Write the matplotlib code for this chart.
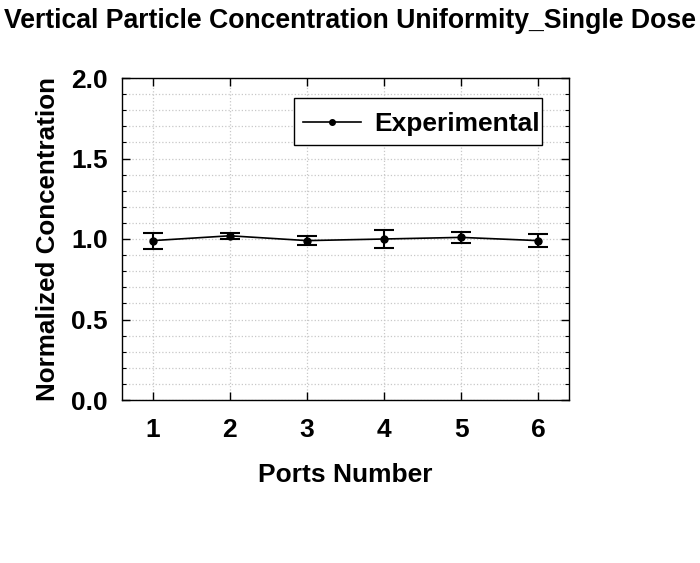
import matplotlib
matplotlib.use("Agg")
import matplotlib.pyplot as plt
from matplotlib import font_manager
from matplotlib.ticker import MultipleLocator
from matplotlib.lines import Line2D
from matplotlib.patches import Rectangle

ports = [1, 2, 3, 4, 5, 6]
concentration = [0.99, 1.02, 0.99, 1.00, 1.01, 0.99]
errors = [0.05, 0.02, 0.03, 0.055, 0.035, 0.04]
xticklabels = ["1", "2", "3", "4", "5", "6"]

names = {f.name for f in font_manager.fontManager.ttflist}
main_font = "Liberation Sans" if "Liberation Sans" in names else "DejaVu Sans"
title_font = "Liberation Sans Narrow" if "Liberation Sans Narrow" in names else main_font
plt.rcParams["font.family"] = [main_font, "DejaVu Sans"]

W, H = 700, 563
fig = plt.figure(figsize=(7, 5.63), dpi=100)
ax = fig.add_axes([122 / W, 1 - 400 / H, (569 - 122) / W, (400 - 78) / H])

ax.errorbar(ports, concentration, yerr=errors, color="black", lw=1.2,
            marker="o", ms=5, capsize=7, capthick=1.5, elinewidth=1.5,
            zorder=3)

ax.set_xlim(0.6, 6.4)
ax.set_ylim(0, 2.0)
ax.set_xticks(ports)
ax.set_xticklabels(xticklabels)
ax.yaxis.set_minor_locator(MultipleLocator(0.1))
ax.set_yticks([0, 0.5, 1.0, 1.5, 2.0])
ax.set_yticklabels(["0.0", "0.5", "1.0", "1.5", "2.0"])

ax.grid(True, which="major", axis="x", color="#c8c8c8", ls=":", lw=0.9)
ax.grid(True, which="both", axis="y", color="#c8c8c8", ls=":", lw=0.9)
ax.set_axisbelow(True)

ax.tick_params(axis="both", which="major", direction="in", length=6, width=1,
               top=True, right=True, labelsize=19)
ax.tick_params(axis="x", which="major", pad=13)
ax.tick_params(axis="y", which="major", pad=10)
ax.tick_params(axis="y", which="minor", direction="in", length=3, width=0.8,
               left=True, right=True)
ax.tick_params(axis="x", which="minor", bottom=False, top=False)
for lab in ax.get_xticklabels() + ax.get_yticklabels():
    lab.set_fontweight("bold")
for sp in ax.spines.values():
    sp.set_linewidth(1.0)

ax.set_xlabel("Ports Number", fontsize=19, fontweight="bold", labelpad=15)
ax.set_ylabel("Normalized Concentration", fontsize=18.7, fontweight="bold", labelpad=8)

# legend frame
frame = Rectangle((294 / W, 1 - 145 / H), (542 - 294) / W, (145 - 98) / H,
                  transform=fig.transFigure, facecolor="white",
                  edgecolor="black", lw=1.0, zorder=5, clip_on=False)
ax.add_artist(frame)
handle = Line2D([], [], color="black", lw=1.2, marker="o", ms=4)
leg = ax.legend([handle], ["Experimental"], loc="center left",
                bbox_to_anchor=(303 / W, 1 - 124 / H),
                bbox_transform=fig.transFigure, borderaxespad=0,
                frameon=False, prop={"weight": "bold", "size": 19},
                handlelength=2.2, handletextpad=0.5, borderpad=0)
leg.set_zorder(7)

# title fitted to width
t = fig.text(0.5, 1 - 21 / H, "Vertical Particle Concentration Uniformity_Single Dose",
             ha="center", va="center", fontsize=16, fontweight="bold",
             family=[title_font, "DejaVu Sans"])
fig.canvas.draw()
r = fig.canvas.get_renderer()
w = t.get_window_extent(r).width
t.set_fontsize(16 * 692 / w)

fig.savefig("out.png", dpi=100)
